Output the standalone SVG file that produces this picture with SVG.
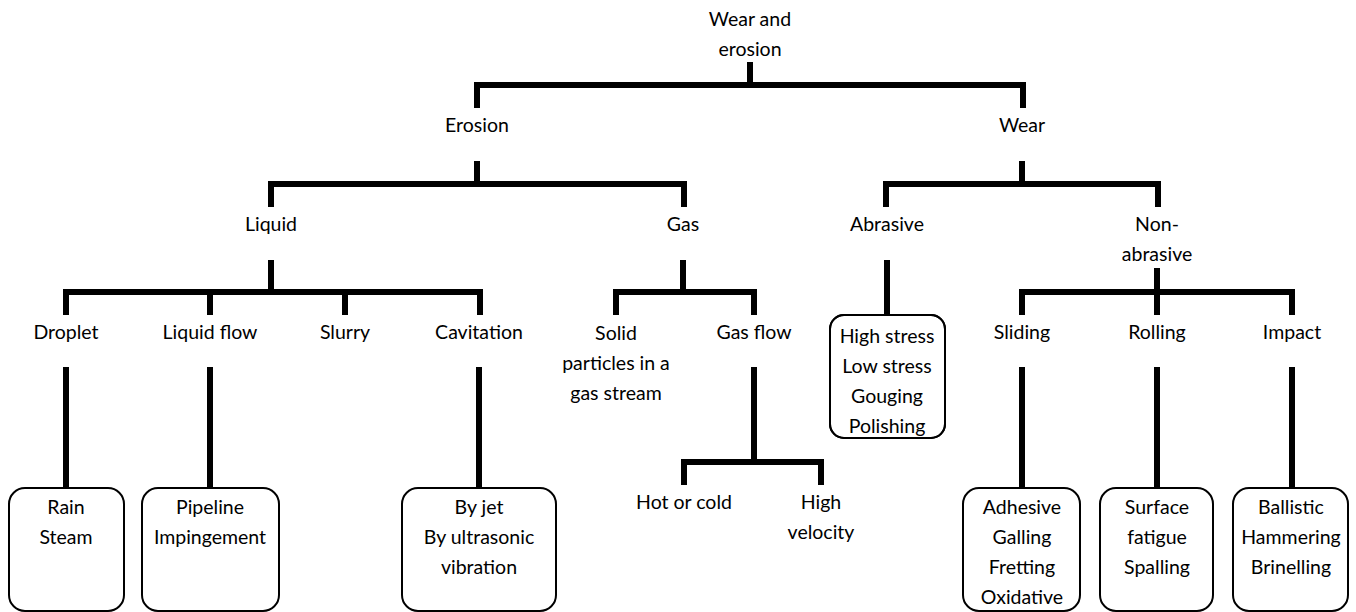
<svg xmlns="http://www.w3.org/2000/svg" width="1356" height="612" viewBox="0 0 1356 612">
<style>
.t{font-family:Lato,"Liberation Sans",sans-serif;font-size:19.5px;fill:#000;text-anchor:middle}
.c{fill:none;stroke:#000;stroke-width:6;stroke-linejoin:miter}
.b{fill:#fff;stroke:#000;stroke-width:2}
.o{fill:none;stroke:#000;stroke-width:2}
</style>
<defs>
<clipPath id="abClip"><rect x="830" y="315" width="115" height="123" rx="14"/></clipPath>
</defs>
<rect width="1356" height="612" fill="#fff"/>
<g id="connectors">
<path class="c" d="M750 62V85M477 108V85H1023V108"/>
<path class="c" d="M477 161V184M271 207V184H684V207"/>
<path class="c" d="M1022 161V184M886 207V184H1158V207"/>
<path class="c" d="M271 260V292M66 315V292H480V315M210 292V315M345 292V315"/>
<path class="c" d="M683 260V292M616 315V292H754V315"/>
<path class="c" d="M887 260V315"/>
<path class="c" d="M1157 268V292M1022 315V292H1292V315M1157 292V315"/>
<path class="c" d="M66 367V488M210 367V488M479 367V488M1022 367V488M1157 367V488M1292 367V488"/>
<path class="c" d="M754 367V462M684 485V462H821V485"/>
</g>
<g id="root"><text class="t" x="750" y="26">Wear and</text><text class="t" x="750" y="56">erosion</text></g>
<g id="erosion"><text class="t" x="477" y="132">Erosion</text></g>
<g id="wear"><text class="t" x="1022" y="132">Wear</text></g>
<g id="liquid"><text class="t" x="271" y="231">Liquid</text></g>
<g id="gas"><text class="t" x="683" y="231">Gas</text></g>
<g id="abrasive"><text class="t" x="887" y="231">Abrasive</text></g>
<g id="nonabrasive"><text class="t" x="1157" y="231">Non-</text><text class="t" x="1157" y="261">abrasive</text></g>
<g id="droplet"><text class="t" x="66" y="339">Droplet</text></g>
<g id="liquidflow"><text class="t" x="210" y="339">Liquid flow</text></g>
<g id="slurry"><text class="t" x="345" y="339">Slurry</text></g>
<g id="cavitation"><text class="t" x="479" y="339">Cavitation</text></g>
<g id="solid"><text class="t" x="616" y="340">Solid</text><text class="t" x="616" y="370">particles in a</text><text class="t" x="616" y="400">gas stream</text></g>
<g id="gasflow"><text class="t" x="754" y="339">Gas flow</text></g>
<g id="sliding"><text class="t" x="1022" y="339">Sliding</text></g>
<g id="rolling"><text class="t" x="1157" y="339">Rolling</text></g>
<g id="impact"><text class="t" x="1292" y="339">Impact</text></g>
<g id="abrasive-box"><rect class="b" x="830" y="315" width="115" height="123" rx="14"/><g clip-path="url(#abClip)"><text class="t" x="887" y="343">High stress</text><text class="t" x="887" y="373">Low stress</text><text class="t" x="887" y="403">Gouging</text><text class="t" x="887" y="433">Polishing</text></g><rect class="o" x="830" y="315" width="115" height="123" rx="14"/></g>
<g id="hotcold"><text class="t" x="684" y="509">Hot or cold</text></g>
<g id="highvel"><text class="t" x="821" y="509">High</text><text class="t" x="821" y="539">velocity</text></g>
<g id="droplet-box"><rect class="b" x="9" y="488" width="115" height="123" rx="16"/><text class="t" x="66" y="514">Rain</text><text class="t" x="66" y="544">Steam</text></g>
<g id="liquidflow-box"><rect class="b" x="142" y="488" width="137" height="123" rx="16"/><text class="t" x="210" y="514">Pipeline</text><text class="t" x="210" y="544">Impingement</text></g>
<g id="cavitation-box"><rect class="b" x="402" y="488" width="154" height="123" rx="16"/><text class="t" x="479" y="514">By jet</text><text class="t" x="479" y="544">By ultrasonic</text><text class="t" x="479" y="574">vibration</text></g>
<g id="sliding-box"><rect class="b" x="963" y="488" width="117" height="123" rx="16"/><text class="t" x="1022" y="514">Adhesive</text><text class="t" x="1022" y="544">Galling</text><text class="t" x="1022" y="574">Fretting</text><text class="t" x="1022" y="604">Oxidative</text></g>
<g id="rolling-box"><rect class="b" x="1100" y="488" width="113" height="123" rx="16"/><text class="t" x="1157" y="514">Surface</text><text class="t" x="1157" y="544">fatigue</text><text class="t" x="1157" y="574">Spalling</text></g>
<g id="impact-box"><rect class="b" x="1233" y="488" width="115" height="123" rx="16"/><text class="t" x="1291" y="514">Ballistic</text><text class="t" x="1291" y="544">Hammering</text><text class="t" x="1291" y="574">Brinelling</text></g>
</svg>
